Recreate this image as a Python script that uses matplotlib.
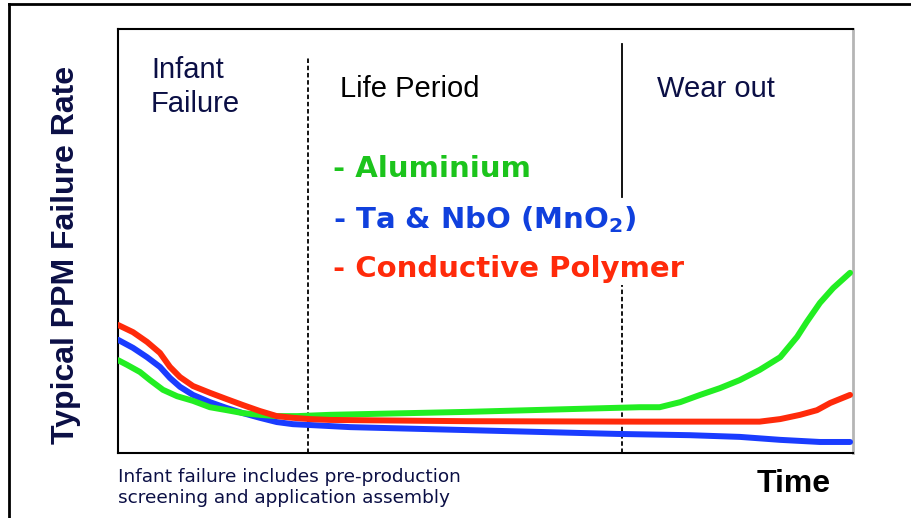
import matplotlib.pyplot as plt
from matplotlib.lines import Line2D

# time axis 0..100, failure rate 0..100 (arbitrary units)
time_red = [0, 2.04, 3.95, 5.71, 7.07, 8.44, 10.2, 12.5, 14.8, 17.0, 19.3, 21.6, 23.8, 26.1,
            28.8, 47.5, 71.0, 87.3, 90.1, 92.8, 95.1, 96.9, 99.6]
rate_red = [30.2, 28.5, 26.2, 23.6, 20.3, 17.9, 15.8, 14.2, 12.7, 11.3, 9.9, 8.7, 8.3, 8.0,
            7.8, 7.5, 7.4, 7.4, 8.0, 9.0, 10.1, 11.8, 13.7]

time_blue = [0, 2.04, 3.95, 5.71, 7.07, 8.44, 10.2, 12.5, 14.8, 17.0, 19.3, 21.6, 23.8, 26.1,
             31.6, 47.5, 67.9, 77.8, 84.6, 90.1, 95.5, 99.6]
rate_blue = [26.7, 24.8, 22.6, 20.3, 17.7, 15.6, 13.7, 12.0, 10.6, 9.4, 8.3, 7.3, 6.8, 6.6,
             6.1, 5.4, 4.5, 4.2, 3.8, 3.1, 2.6, 2.6]

time_green = [0, 1.22, 2.99, 4.35, 6.12, 8.03, 10.2, 12.5, 14.8, 17.0, 19.3, 21.6, 24.4, 28.8,
              47.5, 71.0, 73.7, 76.5, 79.2, 81.9, 84.6, 87.3, 90.1, 92.4, 93.7, 95.5, 97.3, 99.6]
rate_green = [21.9, 20.8, 19.1, 17.2, 14.9, 13.4, 12.3, 10.8, 10.1, 9.4, 9.0, 8.7, 8.7, 9.0,
              9.7, 10.8, 10.8, 12.0, 13.7, 15.3, 17.2, 19.6, 22.6, 27.4, 30.9, 35.4, 38.9, 42.5]

period_bounds = [25.85, 68.6]

navy = '#0b0f45'

fig = plt.figure(figsize=(9.12, 5.18), dpi=100)
ax = fig.add_axes([118 / 912, 65 / 518, 735 / 912, 424 / 518])

style = dict(lw=4.3, solid_capstyle='round', solid_joinstyle='round')
ax.plot(time_blue, rate_blue, color='#1a3cff', zorder=3, **style)
ax.plot(time_green, rate_green, color='#22ee22', zorder=3, **style)
ax.plot(time_red, rate_red, color='#ff2a0a', zorder=4, **style)

# period separators
ax.plot([period_bounds[0]] * 2, [0, 93.2], color='black', lw=1.3, ls=(0, (2.5, 1.5)), zorder=2)
ax.plot([period_bounds[1]] * 2, [60.4, 96.5], color='black', lw=1.3, zorder=2)
ax.plot([period_bounds[1]] * 2, [0, 39.6], color='black', lw=1.3, ls=(0, (2.5, 1.5)), zorder=2)

ax.set_xlim(0, 100)
ax.set_ylim(0, 100)
ax.set_xticks([])
ax.set_yticks([])
for side in ['left', 'bottom', 'top']:
    ax.spines[side].set_color('black')
    ax.spines[side].set_linewidth(1.5)
ax.spines['right'].set_color('#b5b5b5')
ax.spines['right'].set_linewidth(2)

# outer frame (top and left only)
fig.add_artist(Line2D([9 / 912, 1], [1 - 4 / 518, 1 - 4 / 518], color='black', lw=2))
fig.add_artist(Line2D([9 / 912, 9 / 912], [0, 1 - 4 / 518], color='black', lw=2))

def fx(px):
    return px / 912

def fy(py):
    return 1 - py / 518

head = dict(family='Liberation Sans', fontsize=21, va='baseline', ha='left')
fig.text(fx(151), fy(78), 'Infant', color=navy, **head)
fig.text(fx(151), fy(112), 'Failure', color=navy, **head)
fig.text(fx(340), fy(97), 'Life Period', color='black', **head)
fig.text(fx(657), fy(97), 'Wear out', color=navy, **head)

leg = dict(family='DejaVu Sans', fontsize=21, fontweight='bold', va='baseline', ha='left')
fig.text(fx(333), fy(177), '- Aluminium', color='#1cc41c', **leg)
fig.text(fx(333), fy(228), r'- Ta & NbO (MnO$_\mathbf{2}$)', color='#1040dd', **leg)
fig.text(fx(333), fy(277), '- Conductive Polymer', color='#ff2a0a', **leg)

fig.text(fx(66), fy(255), 'Typical PPM Failure Rate', family='Liberation Sans', fontsize=23,
         fontweight='bold', color=navy, rotation=90, ha='center', va='center')
fig.text(fx(757), fy(492), 'Time', family='Liberation Sans', fontsize=23,
         fontweight='bold', color='black', ha='left', va='baseline')

foot = dict(family='DejaVu Sans', fontsize=13.3, color=navy, ha='left', va='baseline')
fig.text(fx(118), fy(482), 'Infant failure includes pre-production', **foot)
fig.text(fx(118), fy(503), 'screening and application assembly', **foot)

fig.savefig('out.png', dpi=100)
